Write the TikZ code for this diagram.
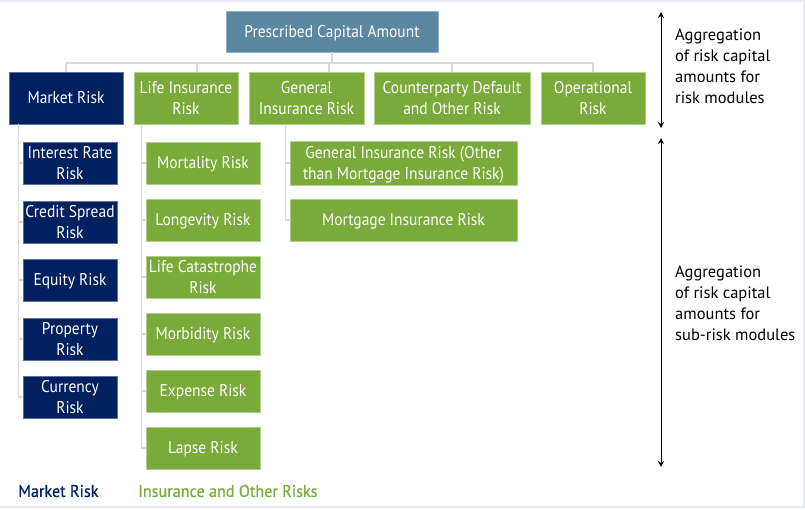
\documentclass[tikz,border=0pt]{standalone}
\usepackage{fontspec}
\setmainfont{PT Sans}
\newfontfamily\boxfont[FakeStretch=0.91]{PT Sans}
\newfontfamily\legfont[FakeStretch=0.95,FakeBold=0.6]{PT Sans}
\usetikzlibrary{arrows.meta,calc}
\definecolor{navy}{HTML}{002060}
\definecolor{navyedge}{HTML}{5873A3}
\definecolor{grn}{HTML}{7AAA3A}
\definecolor{grnedge}{HTML}{B4D08C}
\definecolor{steel}{HTML}{5C87A1}
\definecolor{steeledge}{HTML}{8FB0C4}
\definecolor{conn}{HTML}{D9D9D9}
\definecolor{frame}{HTML}{E6ECF2}
\tikzset{
  base/.style={rectangle, inner sep=0pt, align=center, text=white, font=\boxfont\fontsize{17}{20.5}\selectfont, text depth=0.5pt, line width=0.8pt},
  navybox/.style={base, fill=navy, draw=navyedge},
  grnbox/.style={base, fill=grn, draw=grnedge},
  topbox/.style={base, fill=steel, draw=steeledge},
  connline/.style={draw=conn, line width=1.6pt},
  aggarrow/.style={line width=0.9pt, {Stealth[length=6pt,width=6pt]}-{Stealth[length=6pt,width=6pt]}},
  lbl/.style={anchor=west, align=left, inner sep=0pt, font=\fontsize{16.5}{21}\selectfont, text=black},
  leg/.style={anchor=west, inner sep=0pt, font=\legfont\fontsize{17}{20}\selectfont}
}
\begin{document}
\begin{tikzpicture}[x=1pt,y=-1pt]
\useasboundingbox (0,0) rectangle (805,509);
\draw[frame, line width=1.5pt] (0,1) -- (804,1) -- (804,507) -- (0,507);
% top
\node[topbox, minimum width=212pt, minimum height=41pt] (pca) at (332,31.5) {Prescribed Capital Amount};
\node[navybox, minimum width=114pt, minimum height=52pt] (mr) at (66,98) {Market Risk};
\node[grnbox, minimum width=104pt, minimum height=52pt] (lir) at (186,98) {Life Insurance\\Risk};
\node[grnbox, minimum width=115pt, minimum height=52pt] (gir) at (306.5,98) {General\\Insurance Risk};
\node[grnbox, minimum width=156pt, minimum height=52pt] (cdr) at (452,98) {Counterparty Default\\and Other Risk};
\node[grnbox, minimum width=104pt, minimum height=52pt] (opr) at (593,98) {Operational\\Risk};
% market sub
\foreach \n/\y/\t in {ir/163/{Interest Rate\\Risk}, cs/222/{Credit Spread\\Risk}, eq/280/{Equity Risk}, pr/339/{Property\\Risk}, cu/397/{Currency\\Risk}}
  \node[navybox, minimum width=94pt, minimum height=42pt] (\n) at (70,\y) {\t};
% life sub
\foreach \n/\y/\t in {mo/163/{Mortality Risk}, lo/220/{Longevity Risk}, lc/277/{Life Catastrophe\\Risk}, mb/334/{Morbidity Risk}, ex/391/{Expense Risk}, la/448/{Lapse Risk}}
  \node[grnbox, minimum width=114pt, minimum height=42pt] (\n) at (203,\y) {\t};
% general sub
\node[grnbox, minimum width=227pt, minimum height=44pt] (g1) at (403.5,163) {General Insurance Risk (Other\\than Mortgage Insurance Risk)};
\node[grnbox, minimum width=227pt, minimum height=42pt] (g2) at (403.5,220) {Mortgage Insurance Risk};
% bus connectors
\coordinate (bus) at (0,63);
\coordinate (lirc) at ($(lir.north)+(11,0)$);
\coordinate (girc) at ($(gir.north)+(22.5,0)$);
\draw[connline] (pca.south) -- (pca.south |- bus);
\draw[connline] (mr.north |- bus) -- (opr.north |- bus);
\draw[connline] (mr.north |- bus) -- (mr.north);
\draw[connline] (lirc |- bus) -- (lirc);
\draw[connline] (girc |- bus) -- (girc);
\draw[connline] (cdr.north |- bus) -- (cdr.north);
\draw[connline] (opr.north |- bus) -- (opr.north);
% market tree
\coordinate (mrt) at ($(mr.south west)+(10,0)$);
\draw[connline] (mrt) |- (cu.west);
\foreach \n in {ir,cs,eq,pr} \draw[connline] (mrt |- \n.west) -- (\n.west);
% life tree
\coordinate (lit) at ($(lir.south west)+(8,0)$);
\draw[connline] (lit) |- (la.west);
\foreach \n in {mo,lo,lc,mb,ex} \draw[connline] (lit |- \n.west) -- (\n.west);
% general tree
\coordinate (git) at ($(gir.south west)+(37,0)$);
\draw[connline] (git) |- (g2.west);
\draw[connline] (git |- g1.west) -- (g1.west);
% arrows
\coordinate (a1t) at (661,12);
\coordinate (a1b) at (661,128);
\coordinate (a2t) at (661,138);
\coordinate (a2b) at (661,467);
\draw[aggarrow] (a1t) -- (a1b);
\draw[aggarrow] (a2t) -- (a2b);
\node[lbl] (l1) at (675,66.5) {Aggregation\\of risk capital\\amounts for\\risk modules};
\node[lbl] (l2) at (675,303) {Aggregation\\of risk capital\\amounts for\\sub-risk modules};
% legend
\node[leg, text=navy] (leg1) at (18,491) {Market Risk};
\node[leg, text=grn] (leg2) at (138,491) {Insurance and Other Risks};
\end{tikzpicture}
\end{document}
